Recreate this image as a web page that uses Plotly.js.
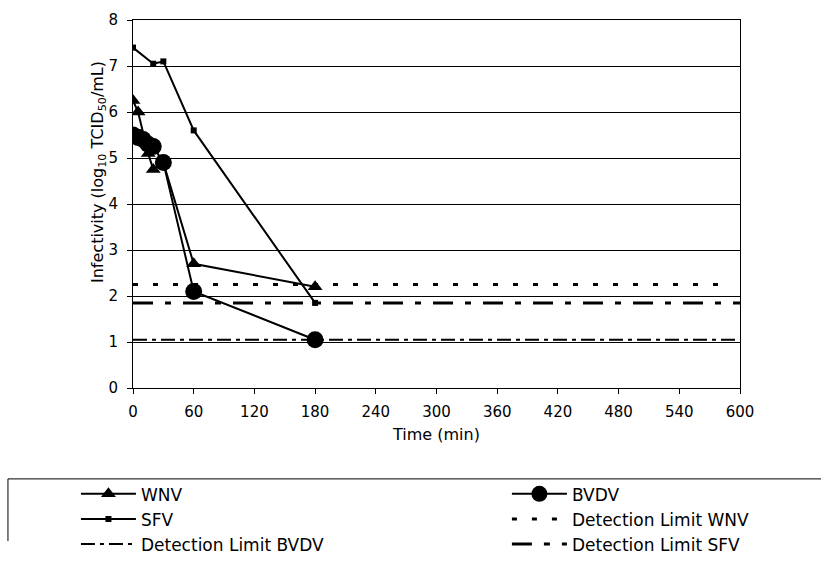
<!DOCTYPE html>
<html>
<head>
<meta charset="utf-8">
<script src="https://cdn.plot.ly/plotly-3.0.1.min.js"></script>
<style>html,body{margin:0;padding:0;background:#fff;}#chart{width:821px;height:570px;}</style>
</head>
<body>
<div id="chart"></div>
<script>
// Data
const wnvTime = [0, 5, 15, 20, 30, 60, 180];
const wnvVal  = [6.25, 6.0, 5.1, 4.75, 4.9, 2.7, 2.2];

const bvdvTime = [0, 5, 10, 15, 20, 30, 60, 180];
const bvdvVal  = [5.5, 5.45, 5.4, 5.3, 5.25, 4.9, 2.1, 1.05];

const sfvTime = [0, 20, 30, 60, 180];
const sfvVal  = [7.4, 7.05, 7.1, 5.6, 1.85];

const dlWnvTime  = [0, 580];
const dlWnvVal   = [2.25, 2.25];
const dlBvdvTime = [0, 600];
const dlBvdvVal  = [1.05, 1.05];
const dlSfvTime  = [0, 600];
const dlSfvVal   = [1.85, 1.85];

const xTicks = [0, 60, 120, 180, 240, 300, 360, 420, 480, 540, 600];
const yTicks = [0, 1, 2, 3, 4, 5, 6, 7, 8];

const FONT = 'DejaVu Sans, Liberation Sans, Arial, sans-serif';

const traces = [
  {x: wnvTime, y: wnvVal, name: 'WNV', mode: 'lines+markers', legend: 'legend',
   line: {color: '#000', width: 2}, marker: {symbol: 'triangle-up', size: 13, color: '#000'}},
  {x: bvdvTime, y: bvdvVal, name: 'BVDV', mode: 'lines+markers', legend: 'legend2',
   line: {color: '#000', width: 2}, marker: {symbol: 'circle', size: 17, color: '#000'}},
  {x: sfvTime, y: sfvVal, name: 'SFV', mode: 'lines+markers', legend: 'legend',
   line: {color: '#000', width: 2}, marker: {symbol: 'square', size: 6, color: '#000'}},
  {x: dlWnvTime, y: dlWnvVal, name: 'Detection Limit WNV', mode: 'lines', legend: 'legend2',
   line: {color: '#000', width: 3, dash: '5px,15px'}},
  {x: dlBvdvTime, y: dlBvdvVal, name: 'Detection Limit BVDV', mode: 'lines', legend: 'legend',
   line: {color: '#000', width: 2, dash: '14px,5px,4px,5px'}},
  {x: dlSfvTime, y: dlSfvVal, name: 'Detection Limit SFV', mode: 'lines', legend: 'legend2',
   line: {color: '#000', width: 3, dash: '20px,12px,6px,12px'}}
];

const legendCommon = {
  orientation: 'v', yanchor: 'top', xanchor: 'left',
  font: {family: FONT, size: 17, color: '#000'},
  bgcolor: 'rgba(0,0,0,0)', borderwidth: 0, tracegroupgap: 0, itemwidth: 55
};

const layout = {
  width: 821, height: 570,
  margin: {l: 133, r: 81, t: 20, b: 182, autoexpand: false},
  paper_bgcolor: '#fff', plot_bgcolor: '#fff',
  font: {family: FONT, color: '#000'},
  showlegend: true,
  xaxis: {
    range: [0, 600], tickvals: xTicks, ticktext: xTicks.map(String),
    showline: true, linecolor: '#000', linewidth: 1, mirror: true,
    ticks: 'outside', ticklen: 5, tickcolor: '#000', ticklabelstandoff: 5,
    showgrid: false, zeroline: false, automargin: false,
    tickfont: {family: FONT, size: 15, color: '#000'},
    title: {text: 'Time (min)', font: {family: FONT, size: 16, color: '#000'}, standoff: 8}
  },
  yaxis: {
    range: [0, 8], tickvals: yTicks, ticktext: yTicks.map(String),
    showline: true, linecolor: '#000', linewidth: 1, mirror: true,
    ticks: 'outside', ticklen: 5, tickcolor: '#000', ticklabelstandoff: 6,
    showgrid: true, gridcolor: '#000', gridwidth: 1, zeroline: false, automargin: false,
    tickfont: {family: FONT, size: 15, color: '#000'}
  },
  annotations: [
    {text: 'Infectivity (log<sub>10</sub> TCID<sub>50</sub>/mL)', textangle: -90,
     xref: 'paper', yref: 'paper', x: -0.056, y: 0.587, xanchor: 'center', yanchor: 'middle',
     showarrow: false, font: {family: FONT, size: 16, color: '#000'}}
  ],
  legend: Object.assign({}, legendCommon, {x: -0.094, y: -0.24}),
  legend2: Object.assign({}, legendCommon, {x: 0.616, y: -0.24}),
  shapes: [
    {type: 'line', xref: 'paper', yref: 'paper', x0: -0.206, x1: 1.2, y0: -0.247, y1: -0.247,
     line: {color: '#000', width: 1}},
    {type: 'line', xref: 'paper', yref: 'paper', x0: -0.206, x1: -0.206, y0: -0.247, y1: -0.416,
     line: {color: '#000', width: 1}}
  ]
};

Plotly.newPlot('chart', traces, layout, {displayModeBar: false, staticPlot: true});
</script>
</body>
</html>
